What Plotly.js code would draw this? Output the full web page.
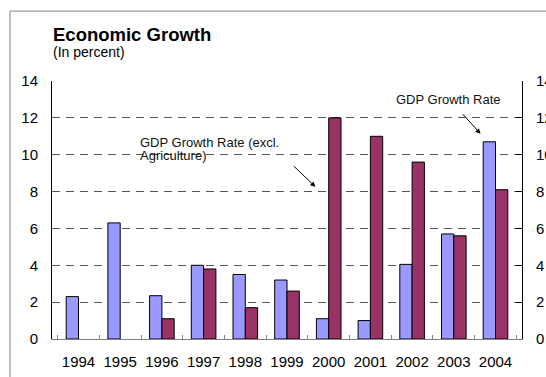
<!DOCTYPE html>
<html>
<head>
<meta charset="utf-8">
<script src="https://cdn.plot.ly/plotly-3.0.1.min.js"></script>
<style>html,body{margin:0;padding:0;background:#fff;}#chart{width:546px;height:377px;}</style>
</head>
<body>
<div id="chart"></div>
<script>
const years = ['1994','1995','1996','1997','1998','1999','2000','2001','2002','2003','2004'];
const gdpGrowth = [2.3, 6.3, 2.35, 4.0, 3.5, 3.2, 1.1, 1.0, 4.05, 5.7, 10.7];
const gdpExclAgri = [null, null, 1.1, 3.8, 1.7, 2.6, 12.0, 11.0, 9.6, 5.6, 8.1];
const yTicks = [0, 2, 4, 6, 8, 10, 12, 14];

const font = '"Liberation Sans", Arial, sans-serif';

const traces = [
  {type:'bar', x: years, y: gdpGrowth, name:'GDP Growth Rate',
   marker:{color:'#9999FF', line:{color:'#000', width:1}}},
  {type:'bar', x: years, y: gdpExclAgri, name:'GDP Growth Rate (excl. Agriculture)',
   marker:{color:'#993366', line:{color:'#000', width:1}}},
  {type:'scatter', mode:'markers', x: years, y: gdpGrowth, yaxis:'y2',
   marker:{opacity:0, size:1}, hoverinfo:'skip', showlegend:false}
];

const layout = {
  width:546, height:377,
  margin:{l:52, r:24, t:81, b:38, pad:0},
  paper_bgcolor:'#fff', plot_bgcolor:'#fff',
  showlegend:false,
  barmode:'group', bargap:0.41, bargroupgap:0,
  font:{family:font, size:15, color:'#000'},
  xaxis:{
    type:'category', showline:true, linecolor:'#808080', linewidth:1,
    ticks:'inside', tickson:'boundaries', ticklen:4, tickcolor:'#808080',
    showgrid:false, zeroline:false, tickfont:{size:15, family:font},
    tickangle:0, ticklabelstandoff:9
  },
  yaxis:{
    range:[0,14], tickvals:yTicks, showline:true, linecolor:'#000', linewidth:1,
    ticks:'', showgrid:true, gridcolor:'#555', griddash:'8px,6px', gridwidth:1,
    zeroline:false, tickfont:{size:15, family:font}, ticklabelstandoff:10, fixedrange:true
  },
  yaxis2:{
    range:[0,14], tickvals:yTicks, overlaying:'y', side:'right', showline:true,
    linecolor:'#000', linewidth:1, ticks:'inside', ticklen:6, tickcolor:'#000',
    showgrid:false, zeroline:false, tickfont:{size:15, family:font}, ticklabelstandoff:10
  },
  shapes:[
    {type:'line', xref:'paper', yref:'paper', x0:-0.0894, x1:1.2, y0:1.271, y1:1.271, line:{color:'#808080', width:1}},
    {type:'line', xref:'paper', yref:'paper', x0:-0.0894, x1:-0.0894, y0:-0.3, y1:1.271, line:{color:'#808080', width:1}}
  ],
  annotations:[
    {xref:'paper', yref:'paper', x:-0.002, y:1.182, xanchor:'left', yanchor:'middle', showarrow:false,
     text:'<b>Economic Growth</b>', font:{size:18.5, family:font, color:'#000'}},
    {xref:'paper', yref:'paper', x:-0.002, y:1.112, xanchor:'left', yanchor:'middle', showarrow:false,
     text:'(In percent)', font:{size:14, family:font, color:'#000'}},
    {xref:'paper', yref:'paper', x:0.183, y:0.762, xanchor:'left', yanchor:'middle', showarrow:false,
     text:'GDP Growth Rate (excl.', font:{size:13, family:font, color:'#111'}},
    {xref:'paper', yref:'paper', x:0.183, y:0.712, xanchor:'left', yanchor:'middle', showarrow:false,
     text:'Agriculture)', font:{size:13, family:font, color:'#111'}},
    {xref:'paper', yref:'paper', x:0.728, y:0.930, xanchor:'left', yanchor:'middle', showarrow:false,
     text:'GDP Growth Rate', font:{size:13, family:font, color:'#111'}},
    {xref:'x', yref:'y', x:5.68, y:8.26, ax:-23, ay:-22, showarrow:true, arrowhead:2, arrowsize:1, arrowwidth:1, arrowcolor:'#000', text:''},
    {xref:'x', yref:'y', x:9.64, y:11.14, ax:-19, ay:-21, showarrow:true, arrowhead:2, arrowsize:1, arrowwidth:1, arrowcolor:'#000', text:''}
  ]
};

Plotly.newPlot('chart', traces, layout, {staticPlot:true, displayModeBar:false});
</script>
</body>
</html>
